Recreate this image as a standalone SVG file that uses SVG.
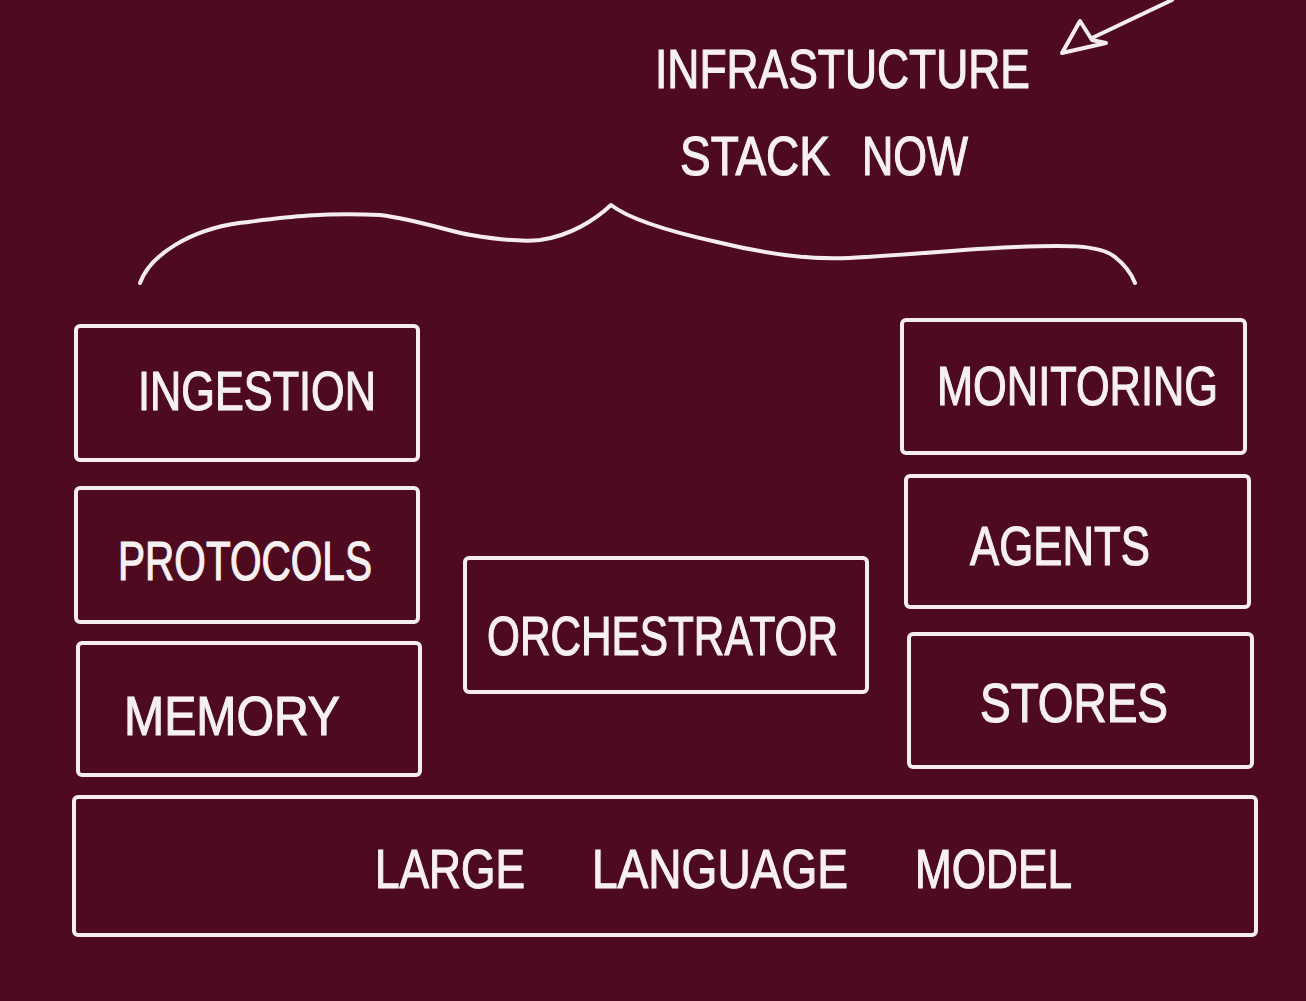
<svg xmlns="http://www.w3.org/2000/svg" width="1306" height="1001" viewBox="0 0 1306 1001">
<style>
.bg{fill:#4e0a1e}
.box{fill:none;stroke:#f4ecef;stroke-width:4;rx:4}
.ln{fill:none;stroke:#f4ecef;stroke-width:4;stroke-linecap:round;stroke-linejoin:round}
.t{fill:#f7f0f2;stroke:#f7f0f2;stroke-width:1.2;font-family:"Liberation Sans","DejaVu Sans",sans-serif;font-size:56px}
</style>
<rect class="bg" x="0" y="0" width="1306" height="1001"/>
<g id="title">
<text class="t" x="655" y="88" font-size="66" textLength="375" lengthAdjust="spacingAndGlyphs">INFRASTUCTURE</text>
<text class="t" y="175" font-size="64"><tspan x="680" textLength="150" lengthAdjust="spacingAndGlyphs">STACK</tspan><tspan x="862" textLength="106" lengthAdjust="spacingAndGlyphs">NOW</tspan></text>
</g>
<g id="connectors">
<path class="ln" d="M1172,0 L1092,38"/>
<path class="ln" d="M1062,53 L1080,21 L1092,40 L1106,43 Z"/>
<path class="ln" d="M140,283 C150,255 190,230 239,223 C280,218 320,212 380,215 C420,220 450,232 471,235 C500,240 520,242 540,240 C570,236 595,220 611,205 C620,212 640,225 717,242 C770,255 810,260 849,258 C920,254 980,248 1015,247 C1060,245 1100,244 1115,257 C1125,265 1132,275 1135,283"/>
</g>
<g id="ingestion">
<rect class="box" x="76" y="326" width="342" height="134"/>
<text class="t" x="138" y="410" textLength="238" lengthAdjust="spacingAndGlyphs">INGESTION</text>
</g>
<g id="protocols">
<rect class="box" x="76" y="488" width="342" height="134"/>
<text class="t" x="118" y="580" textLength="254" lengthAdjust="spacingAndGlyphs">PROTOCOLS</text>
</g>
<g id="memory">
<rect class="box" x="78" y="643" width="342" height="132"/>
<text class="t" x="124" y="735" textLength="216" lengthAdjust="spacingAndGlyphs">MEMORY</text>
</g>
<g id="orchestrator">
<rect class="box" x="465" y="558" width="402" height="134"/>
<text class="t" x="487" y="655" textLength="351" lengthAdjust="spacingAndGlyphs">ORCHESTRATOR</text>
</g>
<g id="monitoring">
<rect class="box" x="902" y="320" width="343" height="133"/>
<text class="t" x="937" y="405" textLength="281" lengthAdjust="spacingAndGlyphs">MONITORING</text>
</g>
<g id="agents">
<rect class="box" x="906" y="476" width="343" height="131"/>
<text class="t" x="970" y="565" textLength="180" lengthAdjust="spacingAndGlyphs">AGENTS</text>
</g>
<g id="stores">
<rect class="box" x="909" y="634" width="343" height="133"/>
<text class="t" x="980" y="722" textLength="188" lengthAdjust="spacingAndGlyphs">STORES</text>
</g>
<g id="llm">
<rect class="box" x="74" y="797" width="1182" height="138"/>
<text class="t" y="888" font-size="62"><tspan x="375" textLength="150" lengthAdjust="spacingAndGlyphs">LARGE</tspan><tspan x="592" textLength="256" lengthAdjust="spacingAndGlyphs">LANGUAGE</tspan><tspan x="915" textLength="157" lengthAdjust="spacingAndGlyphs">MODEL</tspan></text>
</g>
</svg>
